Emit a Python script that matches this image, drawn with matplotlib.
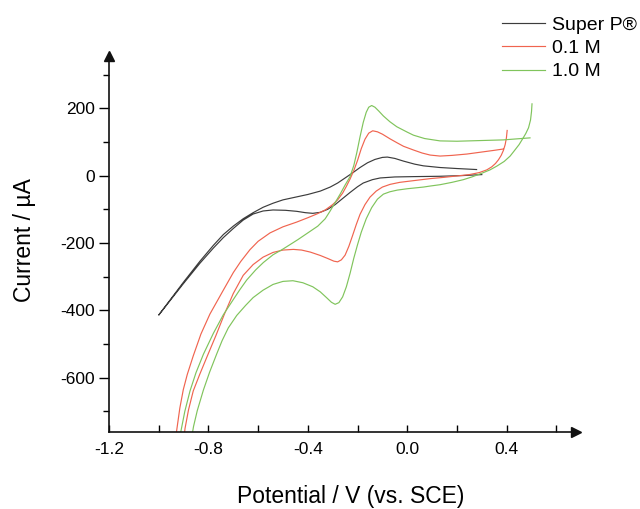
import matplotlib
matplotlib.use("Agg")
import matplotlib.pyplot as plt

plt.rcParams['font.family'] = ['Liberation Sans', 'DejaVu Sans']
plt.rcParams['axes.unicode_minus'] = False

# ---- data (potential V vs SCE, current µA) ----
superp_v = [0.30, 0.22, 0.13, 0.025, -0.05, -0.109, -0.14, -0.177, -0.20, -0.23, -0.26, -0.29,
            -0.32, -0.35, -0.38, -0.41, -0.445, -0.49, -0.54, -0.58, -0.62, -0.66, -0.70,
            -0.74, -0.78, -0.834, -0.90, -1.0,
            -0.90, -0.834, -0.78, -0.74, -0.70, -0.66, -0.62, -0.58, -0.54, -0.50, -0.45,
            -0.40, -0.35, -0.31, -0.28, -0.25, -0.22, -0.19, -0.16, -0.13, -0.10, -0.08,
            -0.05, -0.015, 0.03, 0.065, 0.132, 0.20, 0.279]
superp_i = [3, 0, -2, -3, -4, -7, -12, -22, -33, -50, -68, -86,
            -100, -109, -112, -110, -106, -103, -102, -105, -114, -132, -157,
            -184, -215, -260, -320, -414,
            -316, -254, -207, -175, -150, -128, -110, -94, -82, -72, -64,
            -56, -46, -34, -22, -7, 8, 24, 38, 48, 54, 55,
            51, 43, 34, 29, 24, 21, 18]

# 0.1 M: reverse (cathodic) sweep from the 0.4 V vertex, then forward (anodic) sweep
m01_v = [0.402, 0.399, 0.394, 0.387, 0.378, 0.367, 0.355, 0.34, 0.32, 0.29, 0.25, 0.20,
         0.15, 0.092, 0.025, -0.03, -0.069, -0.10, -0.125, -0.15, -0.17, -0.19, -0.205,
         -0.22, -0.235, -0.25, -0.265, -0.28, -0.295, -0.32, -0.35, -0.39, -0.425, -0.458,
         -0.50, -0.54, -0.58, -0.62, -0.66, -0.70, -0.735, -0.77, -0.807, -0.835, -0.861,
         -0.88, -0.894, -0.902,
         -0.934, -0.928, -0.915, -0.901, -0.885, -0.861, -0.83, -0.794, -0.74, -0.70, -0.67,
         -0.633, -0.60, -0.552, -0.50, -0.445, -0.40, -0.364, -0.33, -0.30, -0.28, -0.26,
         -0.245, -0.23, -0.215, -0.20, -0.185, -0.17, -0.155, -0.139, -0.12, -0.10, -0.069,
         -0.04, -0.015, 0.025, 0.06, 0.092, 0.132, 0.18, 0.24, 0.30, 0.35, 0.387]
m01_i = [134, 112, 92, 75, 60, 47, 36, 26, 17, 9, 3, -1,
         -5, -9, -15, -20, -26, -34, -46, -64, -86, -115, -145,
         -178, -210, -236, -250, -256, -254, -246, -237, -227, -221, -219,
         -221, -228, -242, -264, -296, -350, -410, -475, -540, -590, -639,
         -695, -750, -800,
         -800, -758, -690, -635, -590, -535, -470, -411, -340, -288, -255,
         -220, -195, -170, -152, -138, -125, -114, -102, -86, -72, -52,
         -32, -10, 15, 45, 80, 108, 126, 133, 130, 123, 109,
         97, 87, 76, 67, 61, 58, 60, 64, 70, 75, 79]

# 1.0 M: reverse (cathodic) sweep from the 0.5 V vertex, then forward (anodic) sweep
m10_v = [0.502, 0.500, 0.496, 0.488, 0.477, 0.465, 0.45, 0.43, 0.414, 0.39, 0.36, 0.333,
         0.30, 0.26, 0.226, 0.18, 0.132, 0.092, 0.065, 0.0, -0.04, -0.07, -0.096, -0.12,
         -0.143, -0.165, -0.185, -0.20, -0.215, -0.23, -0.245, -0.26, -0.275, -0.29,
         -0.305, -0.325, -0.35, -0.38, -0.42, -0.46, -0.50, -0.54, -0.58, -0.62, -0.65,
         -0.686, -0.72, -0.745, -0.767, -0.795, -0.82, -0.845, -0.86, -0.868, -0.872,
         -0.92, -0.911, -0.895, -0.874, -0.85, -0.82, -0.78, -0.74, -0.70, -0.673, -0.646,
         -0.61, -0.579, -0.54, -0.50, -0.472, -0.44, -0.40, -0.36, -0.33, -0.311, -0.29,
         -0.27, -0.25, -0.23, -0.215, -0.203, -0.19, -0.177, -0.165, -0.155, -0.143, -0.13,
         -0.115, -0.096, -0.07, -0.042, 0.0, 0.025, 0.07, 0.132, 0.20, 0.293, 0.387, 0.494]
m10_i = [213, 190, 165, 142, 125, 110, 92, 73, 58, 42, 28, 17,
         7, -4, -12, -20, -27, -31, -34, -39, -43, -48, -55, -70,
         -95, -128, -168, -205, -245, -290, -330, -360, -377, -382,
         -376, -362, -345, -330, -318, -312, -314, -323, -340, -362, -385,
         -415, -452, -490, -530, -583, -636, -698, -745, -780, -800,
         -800, -760, -700, -639, -585, -530, -468, -413, -368, -338, -310,
         -280, -258, -235, -218, -205, -190, -170, -150, -128, -106, -80,
         -55, -28, -3, 30, 68, 115, 158, 188, 203, 208, 203,
         192, 177, 160, 145, 129, 120, 110, 103, 102, 104, 106, 112]

labels = ['Super P®', '0.1 M', '1.0 M']
colors = ['#3c3c3c', '#f0644f', '#80c45c']

x_major = [-1.2, -0.8, -0.4, 0.0, 0.4]
x_minor = [-1.0, -0.6, -0.2, 0.2, 0.6]
y_major = [-600, -400, -200, 0, 200]
y_minor = [-700, -500, -300, -100, 100, 300]

fig = plt.figure(figsize=(6.4, 5.09), dpi=100)
L, R, B, T = 109, 576, 432, 56
W, H = 640, 509
ax = fig.add_axes([L / W, (H - B) / H, (R - L) / W, (B - T) / H])

for v, i, c, lab in zip([superp_v, m01_v, m10_v], [superp_i, m01_i, m10_i], colors, labels):
    ax.plot(v, i, color=c, lw=0.85, label=lab)

ax.set_xlim(-1.2, 0.679)
ax.set_ylim(-761, 355)
for s in ['top', 'right']:
    ax.spines[s].set_visible(False)
for s in ['left', 'bottom']:
    ax.spines[s].set_linewidth(1.2)
    ax.spines[s].set_color('#111111')

ax.plot(1, 0, '>', color='#111111', ms=7, transform=ax.transAxes, clip_on=False)
ax.plot(0, 1, '^', color='#111111', ms=7, transform=ax.transAxes, clip_on=False)

ax.set_xticks(x_major)
ax.set_xticks(x_minor, minor=True)
ax.set_xticklabels(['%.1f' % t for t in x_major])
ax.set_yticks(y_major)
ax.set_yticks(y_minor, minor=True)
ax.set_yticklabels(['%d' % t for t in y_major])

ax.tick_params(axis='x', which='both', direction='in', length=5, width=1, pad=7, labelsize=12.5)
ax.tick_params(axis='y', which='major', direction='out', length=7, width=1, pad=3, labelsize=12.5)
ax.tick_params(axis='y', which='minor', direction='out', length=4, width=1)

ax.set_xlabel('Potential / V (vs. SCE)', fontsize=16.5, va='center')
ax.xaxis.set_label_coords((351 - L) / (R - L), (B - 496) / (B - T))
ax.set_ylabel('Current / µA', fontsize=16.5, va='center')
ax.yaxis.set_label_coords((24 - L) / (R - L), (B - 240) / (B - T))

leg = ax.legend(loc='upper left', bbox_to_anchor=(502 / W, 1 - 16 / H), bbox_transform=fig.transFigure,
                frameon=False, fontsize=14, handlelength=2.2, handletextpad=0.36,
                labelspacing=0.3, borderpad=0, borderaxespad=0)

fig.savefig('out.png', dpi=100)
